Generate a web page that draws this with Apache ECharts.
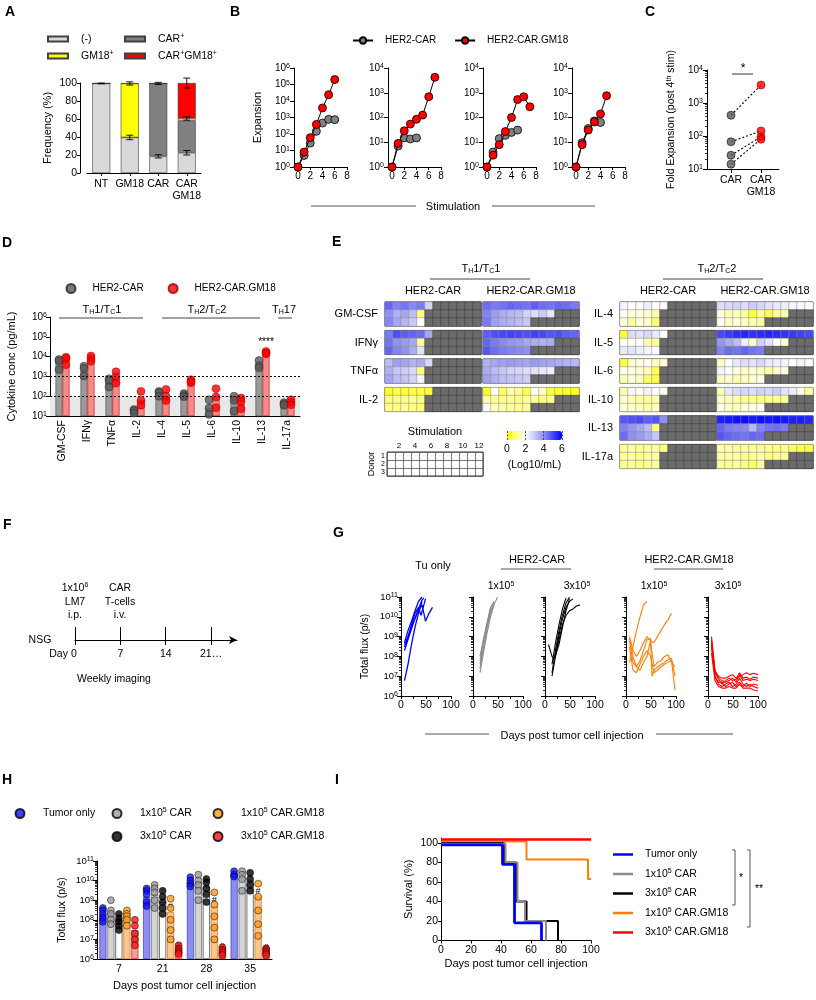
<!DOCTYPE html>
<html><head><meta charset="utf-8"><title>HER2-CAR.GM18</title>
<script src="https://cdn.jsdelivr.net/npm/echarts@6.0.0/dist/echarts.min.js"></script>
<style>html,body{margin:0;padding:0;background:#fff;}#chart{width:816px;height:1000px;}</style>
</head><body><div id="chart"></div>
<script>
// ======================= DATA =======================
// Panel A: frequency (%) of each population
const aCategories = ['NT', 'GM18', 'CAR', 'CAR\nGM18'];
const aNegative   = [99.5, 39.5, 18.5, 22.5];
const aCarPos     = [0, 0, 81, 35.5];
const aGm18Pos    = [0, 60, 0, 2.5];
const aDoublePos  = [0, 0, 0, 39.5];
const aErrors     = [[0, 99.5, 0.4], [1, 99.5, 1.8], [1, 39.5, 2.5], [2, 99.5, 1.2], [2, 18.5, 1.8], [3, 100, 5.5], [3, 60.5, 1.8], [3, 22.5, 2.5]];

// Panel B: expansion per stimulation, 4 donors
const bStim  = [0, 1, 2, 3, 4, 5, 6, 7];
const bMaxExp = [6, 4, 4, 4];
const bCar  = [[1, 5, 28, 145, 460, 770, 740], [1, 7, 15, 13.5, 15], [1, 4, 14, 19, 25, 31], [1, 9.5, 36, 73, 63]];
const bGm18 = [[1, 8, 60, 380, 3800, 24000, 200000], [1, 9, 29, 54, 85, 125, 690, 4200], [1, 3, 8, 27, 100, 530, 690, 270], [1, 8, 31, 66, 140, 760]];

// Panel C: fold expansion post 4th stim
const cGroups = ['CAR', 'CAR\nGM18'];
const cCar  = [425, 67, 26, 14];
const cGm18 = [3500, 142, 95, 80];

// Panel D: cytokine concentration (pg/mL)
const dCytokines = ['GM-CSF', 'IFNγ', 'TNFα', 'IL-2', 'IL-4', 'IL-5', 'IL-6', 'IL-10', 'IL-13', 'IL-17a'];
const dCarMean  = [5700, 2000, 630, 13, 123, 91, 26, 62, 2900, 35];
const dGm18Mean = [7800, 6900, 940, 66, 80, 430, 100, 62, 17000, 55];
const dCarDonors  = [[7200, 6000, 2200], [3300, 2500, 1050], [760, 600, 290], [21, 18, 14], [175, 150, 100], [135, 110, 95], [66, 25, 12], [100, 62, 18], [6300, 3500, 2700], [47, 40, 35]];
const dGm18Donors = [[9300, 8000, 3900], [10700, 8000, 5800], [1700, 940, 460], [175, 60, 35], [220, 100, 60], [680, 550, 480], [240, 91, 26], [80, 55, 23], [18000, 15000, 14000], [66, 50, 37]];

// Panel E: heat maps, log10 (pg/mL); rows = donors, columns = stimulations (missing = no data)
const eStims  = ['1', '2', '3', '4', '5', '6', '7', '8', '9', '10', '11', '12'];
const eDonors = ['1', '2', '3'];
const eGMCSF_car = [[4.6, 4.2, 4.4, 4.1, 4.3, 2.8], [4.0, 3.4, 3.6, 3.2, 1.0], [4.1, 3.6, 3.3, 3.0, 2.0]];
const eGMCSF_gm  = [[4.5, 4.3, 4.4, 4.6, 4.5, 4.4, 4.7, 4.5, 4.4, 4.6, 4.5, 4.3], [4.2, 3.8, 3.5, 3.3, 3.2, 2.8, 2.6, 2.9, 2.4], [4.3, 3.7, 3.5, 3.4, 3.2, 3.0]];
const eIFNg_car  = [[4.3, 4.9, 4.7, 4.6, 4.5, 3.6], [4.4, 4.0, 3.8, 3.6, 1.2], [4.6, 4.2, 4.0, 3.5, 2.5]];
const eIFNg_gm   = [[4.7, 4.9, 5.0, 5.1, 5.0, 4.9, 5.1, 5.0, 4.8, 4.9, 4.7, 4.6], [4.6, 4.3, 4.1, 3.9, 3.8, 3.6, 3.5, 3.4, 3.5], [4.8, 4.5, 4.3, 4.2, 4.1, 4.0]];
const eTNFa_car  = [[3.2, 3.7, 3.6, 3.4, 3.5, 2.7], [3.4, 3.0, 2.9, 2.7, 1.0], [3.6, 3.2, 3.1, 2.8, 2.2]];
const eTNFa_gm   = [[3.4, 3.6, 3.7, 3.8, 3.7, 3.6, 3.8, 3.7, 3.6, 3.5, 3.4, 3.3], [3.5, 3.2, 3.0, 2.8, 2.7, 2.6, 2.5, 2.4, 2.3], [3.7, 3.4, 3.2, 3.1, 3.0, 2.9]];
const eIL2_car   = [[0.3, 0.6, 0.4, 0.5, 0.5, 0.4], [1.0, 1.1, 1.0, 1.2, 1.0], [1.1, 1.0, 1.2, 1.0, 0.9]];
const eIL2_gm    = [[0.3, 2.0, 0.8, 1.4, 1.2, 0.6, 2.0, 1.5, 0.5, 0.4, 0.3, 0.2], [1.4, 1.2, 1.1, 1.2, 1.1, 1.3, 1.2, 1.0, 1.1], [2.1, 1.5, 1.3, 1.2, 1.1, 1.2]];
const eIL4_car   = [[2.2, 2.0, 2.1, 2.3, 2.0, 2.1], [1.9, 1.7, 1.8, 1.6, 1.3], [1.7, 1.2, 1.7, 1.6, 0.9]];
const eIL4_gm    = [[2.6, 2.7, 2.8, 2.6, 2.9, 2.7, 2.5, 2.4, 2.3, 2.2, 2.1, 2.0], [1.8, 1.4, 1.5, 1.3, 0.5, 1.2, 0.6, 1.2, 1.4], [1.9, 1.6, 1.7, 1.5, 1.4, 1.3]];
const eIL5_car   = [[0.4, 2.6, 2.5, 2.7, 2.4, 2.0], [2.0, 1.9, 2.0, 1.3, 1.2], [2.4, 2.5, 2.3, 2.2, 2.0]];
const eIL5_gm    = [[5.0, 5.2, 5.4, 5.5, 5.3, 5.4, 5.5, 5.4, 5.3, 5.2, 5.1, 5.0], [3.9, 3.5, 3.2, 2.3, 1.5, 2.8, 2.5, 2.0, 1.6], [4.2, 4.5, 4.4, 4.6, 4.4, 4.3]];
const eIL6_car   = [[0.5, 1.6, 1.8, 1.9, 1.5, 1.6], [1.9, 1.8, 1.6, 1.4, 0.6], [1.3, 1.7, 1.5, 0.7, 0.6]];
const eIL6_gm    = [[1.5, 2.0, 2.4, 2.6, 2.5, 2.7, 2.4, 2.3, 2.2, 2.0, 2.2, 2.1], [2.2, 2.0, 1.8, 1.6, 1.7, 1.5, 1.3, 1.6, 1.8], [1.5, 1.6, 1.4, 1.5, 1.6, 1.8]];
const eIL10_car  = [[1.4, 2.1, 1.9, 2.2, 2.0, 1.8], [1.6, 1.5, 1.3, 1.2, 1.4], [1.7, 1.6, 1.5, 1.4, 1.5]];
const eIL10_gm   = [[1.4, 2.4, 2.6, 2.7, 2.6, 2.8, 2.7, 2.9, 2.5, 2.3, 1.8, 1.2], [1.6, 1.5, 1.4, 1.1, 1.2, 1.0, 1.1, 1.2, 1.3], [1.8, 1.6, 1.5, 1.7, 1.8, 1.9]];
const eIL13_car  = [[4.8, 4.9, 5.0, 4.7, 4.8, 4.0], [4.2, 3.9, 3.6, 3.2, 1.0], [4.5, 4.0, 3.8, 3.5, 3.0]];
const eIL13_gm   = [[5.6, 5.7, 5.8, 5.8, 5.7, 5.8, 5.7, 5.8, 5.7, 5.6, 5.6, 5.5], [4.6, 4.3, 4.2, 4.1, 3.3, 4.2, 4.4, 4.5, 4.3], [4.8, 4.6, 4.5, 4.4, 4.6, 4.5]];
const eIL17a_car = [[1.2, 1.3, 1.1, 1.2, 1.3, 1.0], [1.3, 1.2, 1.1, 1.2, 1.3], [1.1, 1.2, 1.0, 1.1, 1.2]];
const eIL17a_gm  = [[1.4, 1.3, 1.2, 1.3, 1.2, 1.2, 1.1, 1.0, 1.1, 0.8, 0.6, 0.5], [1.3, 1.2, 1.3, 1.1, 1.2, 1.3, 1.0, 1.1, 1.2], [1.2, 1.1, 1.3, 1.0, 0.8, 1.2]];

// Panel F: timeline
const fTimepoints = [0, 7, 14, 21];
const fDayLabels  = ['Day 0', '7', '14', '21…'];

// Panel G: total flux (p/s) per mouse, [day, flux]
const gTuOnly = [
  [[7, 6e6], [14, 4e7], [21, 4e8], [28, 3e9], [35, 1.5e10], [42, 6e10]],
  [[7, 4e8], [14, 1e9], [21, 3e9], [28, 8e9], [35, 2.5e10], [42, 7e10], [46, 9e10]],
  [[7, 3e8], [14, 9e8], [21, 4e9], [28, 1.5e10], [35, 3e10], [40, 1.2e10], [49, 8e10]],
  [[7, 5e8], [14, 2e9], [21, 6e9], [28, 2e10], [35, 6e10], [42, 1e11]],
  [[7, 2e8], [14, 7e8], [21, 2.5e9], [28, 9e9], [35, 2e10], [42, 4e10], [49, 6e9], [56, 1.5e10], [63, 3e10]]
];
const gCar1 = [
  [[14, 1.5e7], [21, 1.5e8], [28, 1.5e9], [35, 1e10], [42, 4e10], [49, 1e11]],
  [[14, 4e7], [21, 3e8], [28, 3e9], [35, 2e10], [42, 5e10]],
  [[14, 1e8], [21, 8e8], [28, 5e9], [35, 3e10], [42, 6e10]],
  [[14, 2.5e7], [21, 3e8], [28, 2.5e9], [35, 1.5e10], [42, 4e10]],
  [[14, 6e7], [21, 6e8], [28, 4e9], [35, 2.5e10], [40, 3e10]]
];
const gCar3 = [
  [[7, 4e8], [14, 1e8], [18, 7e7], [28, 4e8], [35, 3e9], [42, 2e10], [49, 8e10]],
  [[14, 1.5e7], [21, 2e8], [28, 2e9], [35, 1.2e10], [42, 5e10], [49, 1e11]],
  [[14, 4e7], [21, 5e8], [28, 4e9], [35, 2.5e10], [42, 9e10]],
  [[14, 1e7], [21, 1e8], [28, 7e8], [35, 4e9], [42, 1.2e10], [49, 2e10], [56, 2.5e10], [63, 3.5e10], [70, 4e10]],
  [[21, 1.2e8], [28, 1.2e9], [35, 8e9], [42, 3e10], [49, 6e10], [56, 8e10]]
];
const gGm1 = [
  [[7, 5e7], [14, 3e8], [21, 2e9], [28, 1e10], [35, 4e10], [42, 6e10]],
  [[7, 1e9], [14, 2e8], [21, 1e8], [28, 2e8], [35, 5e8], [42, 1e9], [49, 6e8], [56, 5e8], [63, 1e9], [70, 2e9], [77, 4e9], [84, 7e9], [91, 1.5e10]],
  [[7, 6e8], [14, 5e7], [21, 3e7], [28, 6e7], [35, 2e8], [42, 7e8], [49, 8e8], [52, 1e7], [56, 2e7], [63, 3e7], [70, 4e7], [77, 5e7], [84, 7e7], [91, 8e7], [98, 1e7]],
  [[7, 3e8], [14, 2e7], [21, 1.5e7], [28, 4e7], [35, 1e8], [42, 2e8], [49, 1e8], [56, 1.5e7], [63, 2e7], [70, 3e7], [77, 4e7], [84, 5e7], [91, 6e7], [98, 2e6]],
  [[7, 8e8], [14, 1e8], [21, 3e7], [28, 2e7], [35, 5e7], [42, 1e8], [49, 6e8], [56, 3e7], [63, 5e7], [70, 6e7], [77, 1e8], [84, 1.2e8], [91, 5e7], [98, 3e7]]
];
const gGm3 = [
  [[7, 1e9], [14, 2e7], [21, 8e6], [28, 6e6], [35, 5e6], [42, 6e6], [49, 8e6], [56, 5e6], [63, 1.2e7], [70, 6e6], [77, 7e6], [84, 6e6], [91, 7e6], [100, 6e6]],
  [[7, 5e8], [14, 1e7], [21, 4e6], [28, 3e6], [35, 4e6], [42, 5e6], [49, 3e6], [56, 4e6], [63, 8e6], [70, 4e6], [77, 3e6], [84, 4e6], [91, 3e6], [100, 2.5e6]],
  [[7, 3e8], [14, 8e6], [21, 5e6], [28, 5e6], [35, 3e6], [42, 4e6], [49, 5e6], [56, 3e6], [63, 5e6], [70, 3e6], [77, 4.5e6], [84, 3e6], [91, 4e6], [100, 3.5e6]],
  [[7, 1.5e8], [14, 6e6], [21, 3e6], [28, 2.5e6], [35, 2.5e6], [42, 3e6], [49, 2.5e6], [56, 2.5e6], [63, 4e6], [70, 2.5e6], [77, 2.5e6], [84, 2.5e6], [91, 2e6], [100, 1.8e6]],
  [[7, 7e8], [14, 1.5e7], [21, 7e6], [28, 4e6], [35, 6e6], [42, 8e6], [49, 6e6], [56, 7e6], [63, 1.5e7], [70, 8e6], [77, 9e6], [84, 7e6], [91, 9e6], [100, 8e6]],
  [[7, 4e8], [14, 1.8e7], [21, 1e7], [28, 8e6], [35, 8e6], [42, 1e7], [49, 1.2e7], [56, 8e6], [63, 1e7], [70, 1.2e7], [77, 1.5e7], [84, 1.2e7], [91, 1.4e7], [100, 1.2e7]]
];

// Panel H: flux by day (bars = group mean, dots = mice)
const hDays = ['7', '21', '28', '35'];
const hBarTumor = [2e8, 1.5e9, 9e9, 2.2e10];
const hBarCar1  = [2.5e8, 2e9, 8e9, 1.5e10];
const hBarCar3  = [1e8, 8e8, 5e9, 1e10];
const hBarGm1   = [1.5e8, 2.5e8, 5e8, 1.5e9];
const hBarGm3   = [3e7, 2.5e6, 2.2e6, 2e6];
const hDotsTumor = [[4e8, 3e8, 2e8, 1.2e8, 8e7], [4e9, 3e9, 2e9, 8e8, 5e8], [1.5e10, 1e10, 7e9, 5e9], [3e10, 2e10, 1.6e10]];
const hDotsCar1  = [[1e9, 3e8, 2e8, 1e8, 6e7], [6e9, 4e9, 2.5e9, 1e9, 4e8], [2e10, 1e10, 6e9, 3e9, 1e9], [3e10, 2e10, 1.2e10, 3e9]];
const hDotsCar3  = [[2e8, 1.2e8, 8e7, 5e7, 3e7], [3e9, 1.5e9, 8e8, 4e8, 2e8], [1.2e10, 8e9, 4e9, 2e9, 8e8], [2.5e10, 1.2e10, 6e9, 3e9]];
const hDotsGm1   = [[3e8, 2e8, 1.5e8, 1e8, 5e7], [1.2e9, 4e8, 1e8, 3e7, 1e7], [2.5e9, 6e8, 1.5e8, 4e7, 1e7], [7e9, 1.5e9, 3e8, 6e7, 1.5e7]];
const hDotsGm3   = [[1e8, 5e7, 2e7, 1e7, 5e6], [5e6, 3.5e6, 2.8e6, 2.2e6, 1.8e6], [4e6, 3e6, 2.5e6, 2e6, 1.6e6], [3.5e6, 3e6, 2.4e6, 2e6, 1.6e6]];
const hHashGm1 = [false, true, true, true];
const hHashGm3 = [false, true, true, true];

// Panel I: survival (%) [day, percent]
const iTumor = [[0, 98], [41, 78], [49, 18], [67, 0]];
const iCar1  = [[0, 99], [43, 80], [51, 40], [56, 20], [70, 0]];
const iCar3  = [[0, 100], [42, 80], [50, 40], [57, 20], [78, 0]];
const iGm1   = [[0, 101.5], [57, 83], [98, 63], [100, 63]];
const iGm3   = [[0, 103.5], [100, 103.5]];

// ======================= BUILD =======================
const FONT = '"Liberation Sans", Arial, Helvetica, sans-serif';
const SUP = {fontSize: 7, lineHeight: 7, verticalAlign: 'top', fontFamily: FONT, color: '#000', fill: '#000'};
const SUB = {fontSize: 7, lineHeight: 7, verticalAlign: 'bottom', fontFamily: FONT, color: '#000', fill: '#000'};
function merge(a, b) {
  const o = Object.assign({}, a);
  for (const k in b) {
    const v = b[k];
    if (v && typeof v === 'object' && !Array.isArray(v) && o[k] && typeof o[k] === 'object' && !Array.isArray(o[k])) o[k] = merge(o[k], v);
    else o[k] = v;
  }
  return o;
}
const AX = {
  axisLine: {show: true, onZero: false, lineStyle: {color: '#000', width: 1}},
  axisTick: {show: true, length: 3, lineStyle: {color: '#000', width: 1}},
  axisLabel: {color: '#000', fontSize: 10, fontFamily: FONT, margin: 3, rich: {s: SUP}},
  splitLine: {show: false},
  nameMoveOverlap: false,
  nameTextStyle: {color: '#000', fontSize: 10.5, fontFamily: FONT, rich: {s: SUP}}
};
const grids = [], xAxes = [], yAxes = [], series = [], legends = [], graphics = [];
function addGrid(g) { grids.push(Object.assign({outerBoundsMode: 'none', containLabel: false}, g)); return grids.length - 1; }
function addX(a) { xAxes.push(merge(AX, a)); return xAxes.length - 1; }
function addY(a) { yAxes.push(merge(AX, a)); return yAxes.length - 1; }
function decades(lo, hi) { const r = []; for (let e = lo; e <= hi; e++) r.push(Math.pow(10, e)); return r; }
function minorsOf(lo, hi) { const r = []; for (let e = lo; e < hi; e++) for (let m = 2; m <= 9; m++) r.push(m * Math.pow(10, e)); return r; }
const logLabel = v => '10{s|' + Math.round(Math.log10(v)) + '}';
function logY(gi, lo, hi, extra) {
  return addY(merge({type: 'log', logBase: 10, gridIndex: gi, position: 'left', min: Math.pow(10, lo), max: Math.pow(10, hi), startValue: Math.pow(10, lo),
    axisLabel: {customValues: decades(lo, hi), formatter: logLabel},
    axisTick: {customValues: decades(lo, hi), length: 4}}, extra || {}));
}
function minorY(gi, lo, hi) {
  return addY({type: 'log', logBase: 10, gridIndex: gi, position: 'left', min: Math.pow(10, lo), max: Math.pow(10, hi),
    axisLine: {show: false}, axisLabel: {show: false}, axisTick: {customValues: minorsOf(lo, hi), length: 2, lineStyle: {width: 0.8}}});
}
function txt(x, y, text, o) {
  graphics.push(merge({type: 'text', x: x, y: y, silent: true, z: 100,
    style: {text: text, fontFamily: FONT, fontSize: 10.5, fill: '#000', align: 'center', verticalAlign: 'middle', rich: {s: SUP, b: SUB}}}, o || {}));
}
function ln(x1, y1, x2, y2, o) {
  graphics.push(merge({type: 'line', silent: true, z: 100, shape: {x1: x1, y1: y1, x2: x2, y2: y2}, style: {stroke: '#222', lineWidth: 1}}, o || {}));
}
const LEG = {
  '(-)': '(-)', 'CAR+': 'CAR{s|+}', 'GM18+': 'GM18{s|+}', 'CAR+GM18+': 'CAR{s|+}GM18{s|+}',
  'dG': 'HER2-CAR', 'dR': 'HER2-CAR.GM18',
  'h0': 'Tumor only', 'h1': '1x10{s|5} CAR', 'h2': '3x10{s|5} CAR', 'h3': '1x10{s|5} CAR.GM18', 'h4': '3x10{s|5} CAR.GM18',
  'i0': 'Tumor only', 'i1': '1x10{s|5} CAR', 'i2': '3x10{s|5} CAR', 'i3': '1x10{s|5} CAR.GM18', 'i4': '3x10{s|5} CAR.GM18'
};
function addLegend(o, pad) {
  legends.push(merge({show: true, selectedMode: false, padding: 0, formatter: n => (LEG[n] !== undefined ? LEG[n] : n),
    textStyle: {color: '#000', fontSize: 10.5, fontFamily: FONT, lineHeight: 13, padding: [0, 0, 0, pad || 0], rich: {s: SUP}}}, o));
}
function errorBar(params, api) {
  const x = api.value(0), y = api.value(1), e = api.value(2);
  const p1 = api.coord([x, y + e]), p2 = api.coord([x, y - e]);
  const w = 3.5, st = {stroke: '#000', lineWidth: 0.9};
  return {type: 'group', children: [
    {type: 'line', shape: {x1: p1[0], y1: p1[1], x2: p2[0], y2: p2[1]}, style: st},
    {type: 'line', shape: {x1: p1[0] - w, y1: p1[1], x2: p1[0] + w, y2: p1[1]}, style: st},
    {type: 'line', shape: {x1: p2[0] - w, y1: p2[1], x2: p2[0] + w, y2: p2[1]}, style: st}]};
}

// ---------- Panel A ----------
const gA = addGrid({left: 87, top: 83, width: 114, height: 90});
const xA = addX({type: 'category', gridIndex: gA, data: aCategories, axisTick: {alignWithLabel: true, length: 3}, axisLabel: {interval: 0, fontSize: 10.5, margin: 5, lineHeight: 12}});
const yA = addY({type: 'value', gridIndex: gA, min: 0, max: 100, interval: 20, offset: 7, axisLabel: {fontSize: 10.5}, name: 'Frequency (%)', nameLocation: 'middle', nameGap: 27, nameTextStyle: {fontSize: 11}});
[['(-)', aNegative, '#d9d9d9'], ['CAR+', aCarPos, '#808080'], ['GM18+', aGm18Pos, '#ffff00'], ['CAR+GM18+', aDoublePos, '#ff0000']].forEach(function (s) {
  series.push({type: 'bar', name: s[0], stack: 'A', xAxisIndex: xA, yAxisIndex: yA, data: s[1], barWidth: 18, itemStyle: {color: s[2], borderColor: '#404040', borderWidth: 0.6}});
});
series.push({type: 'custom', xAxisIndex: xA, yAxisIndex: yA, data: aErrors, z: 5, clip: false, renderItem: errorBar, silent: true});
addLegend({left: 47, top: 32.5, orient: 'vertical', itemGap: 4, itemWidth: 20, itemHeight: 5, icon: 'rect', data: ['(-)', 'GM18+']}, 8);
addLegend({left: 124, top: 32.5, orient: 'vertical', itemGap: 4, itemWidth: 20, itemHeight: 5, icon: 'rect', data: ['CAR+', 'CAR+GM18+']}, 8);
txt(5, 12, 'A', {style: {fontSize: 14, fontWeight: 'bold', align: 'left'}});

// ---------- Panel B ----------
const bAxisX = [294, 388, 483, 572];
bAxisX.forEach(function (lx, k) {
  const g = addGrid({left: lx, top: 68, width: 53, height: 99});
  const x = addX({type: 'value', gridIndex: g, min: -0.65, max: 8, axisLabel: {customValues: [0, 2, 4, 6, 8], fontSize: 10, margin: 4}, axisTick: {customValues: [0, 2, 4, 6, 8]}});
  const y = logY(g, 0, bMaxExp[k], {axisLabel: {margin: 4}, name: k === 0 ? 'Expansion' : '', nameLocation: 'middle', nameGap: 31, nameTextStyle: {fontSize: 11}});
  series.push({type: 'line', name: 'HER2-CAR', xAxisIndex: x, yAxisIndex: y, data: bCar[k].map((v, i) => [bStim[i], v]), symbol: 'circle', symbolSize: 8,
    lineStyle: {color: '#000', width: 1}, itemStyle: {color: '#808080', borderColor: '#000', borderWidth: 0.8}, z: 3});
  series.push({type: 'line', name: 'HER2-CAR.GM18', xAxisIndex: x, yAxisIndex: y, data: bGm18[k].map((v, i) => [bStim[i], v]), symbol: 'circle', symbolSize: 8,
    lineStyle: {color: '#000', width: 1}, itemStyle: {color: '#ff0000', borderColor: '#000', borderWidth: 0.8}, z: 4});
});
addLegend({left: 352, top: 34, itemWidth: 20, itemHeight: 8, itemGap: 18, data: ['HER2-CAR', 'HER2-CAR.GM18'], textStyle: {fontSize: 10}}, 7);
txt(230, 12, 'B', {style: {fontSize: 14, fontWeight: 'bold', align: 'left'}});
txt(453, 207, 'Stimulation', {style: {fontSize: 11}});
ln(311, 206, 416, 206, {style: {stroke: '#555'}});
ln(492, 206, 595, 206, {style: {stroke: '#555'}});

// ---------- Panel C ----------
const gC = addGrid({left: 707, top: 70, width: 72, height: 99});
const xC = addX({type: 'value', gridIndex: gC, min: 0.2, max: 2.6, axisLabel: {customValues: [1, 2], fontSize: 10.5, margin: 5, lineHeight: 12, formatter: v => cGroups[Math.round(v) - 1]}, axisTick: {customValues: [1, 2], length: 4}});
const yC = logY(gC, 1, 4, {axisLabel: {margin: 4}, name: 'Fold Expansion (post 4{s|th} stim)', nameLocation: 'middle', nameGap: 30, nameTextStyle: {fontSize: 10.5}});
minorY(gC, 1, 4);
cCar.forEach(function (v, i) {
  series.push({type: 'line', xAxisIndex: xC, yAxisIndex: yC, data: [[1, v], [2, cGm18[i]]], symbol: 'none', silent: true, lineStyle: {color: '#000', width: 1.1, type: [2, 2]}, z: 2});
});
series.push({type: 'scatter', xAxisIndex: xC, yAxisIndex: yC, data: cCar.map(v => [1, v]), symbolSize: 8, itemStyle: {color: '#595959', borderColor: '#111', borderWidth: 0.8}, z: 4});
series.push({type: 'scatter', xAxisIndex: xC, yAxisIndex: yC, data: cGm18.map(v => [2, v]), symbolSize: 8, itemStyle: {color: '#ff0000', borderColor: '#900', borderWidth: 0.8}, z: 4});
txt(645, 12, 'C', {style: {fontSize: 14, fontWeight: 'bold', align: 'left'}});
ln(732, 74, 753, 74, {style: {stroke: '#333'}});
txt(743, 69, '*', {style: {fontSize: 12}});

// ---------- Panel D ----------
const gD = addGrid({left: 50, top: 317, width: 250, height: 99});
const xD = addX({type: 'category', gridIndex: gD, data: dCytokines, axisTick: {show: false}, axisLabel: {interval: 0, rotate: 90, fontSize: 10.5, margin: 4}});
const xDv = addX({type: 'value', gridIndex: gD, min: 0, max: 10, show: false});
const yD = logY(gD, 1, 6, {axisLabel: {margin: 3}, name: 'Cytokine conc (pg/mL)', nameLocation: 'middle', nameGap: 33, nameTextStyle: {fontSize: 11}});
series.push({type: 'bar', name: 'dGb', xAxisIndex: xD, yAxisIndex: yD, data: dCarMean, barWidth: 7, barGap: '0%', clip: true,
  itemStyle: {color: '#9a9a9a', borderColor: '#444', borderWidth: 0.6},
  markArea: {silent: true, itemStyle: {color: '#e8e8e8'}, data: [[{yAxis: 10}, {yAxis: 100}]]}});
series.push({type: 'bar', name: 'dRb', xAxisIndex: xD, yAxisIndex: yD, barWidth: 7, barGap: '0%', clip: true,
  data: dGm18Mean.map((v, i) => dCytokines[i] === 'IL-13' ? {value: v, label: {show: true, formatter: '****', position: 'top', distance: 5, fontSize: 10, color: '#000', fontFamily: FONT}} : v),
  itemStyle: {color: '#f58c8c', borderColor: '#d00000', borderWidth: 0.6}});
series.push({type: 'scatter', name: 'dG', xAxisIndex: xDv, yAxisIndex: yD, symbolSize: 8, z: 4,
  data: dCarDonors.flatMap((vals, i) => vals.map(v => [i + 0.5 - 0.14, v])), itemStyle: {color: '#595959', borderColor: '#222', borderWidth: 0.6}});
series.push({type: 'scatter', name: 'dR', xAxisIndex: xDv, yAxisIndex: yD, symbolSize: 8, z: 4,
  data: dGm18Donors.flatMap((vals, i) => vals.map(v => [i + 0.5 + 0.14, v])), itemStyle: {color: '#ff0000', borderColor: '#a00000', borderWidth: 0.6},
  markLine: {silent: true, symbol: 'none', label: {show: false}, lineStyle: {color: '#000', type: [2, 2], width: 1.1}, data: [{yAxis: 1000}, {yAxis: 100}]}});
addLegend({left: 65.5, top: 282, itemWidth: 9, itemHeight: 9, itemGap: 24, data: [{name: 'dG', icon: 'circle'}, {name: 'dR', icon: 'circle'}], textStyle: {fontSize: 10}}, 12);
txt(2, 243, 'D', {style: {fontSize: 14, fontWeight: 'bold', align: 'left'}});
txt(102, 310, 'T{b|H}1/T{b|C}1', {style: {fontSize: 11}});
ln(59, 318, 143, 318, {style: {stroke: '#444'}});
txt(207, 310, 'T{b|H}2/T{b|C}2', {style: {fontSize: 11}});
ln(162, 318, 260, 318, {style: {stroke: '#444'}});
txt(284, 310, 'T{b|H}17', {style: {fontSize: 11}});
ln(278, 318, 292, 318, {style: {stroke: '#444'}});

// ---------- Panel E ----------
const eColoredIdx = [], eEmptyIdx = [];
function heatHalf(left, top, rows, label, header) {
  const g = addGrid({left: left, top: top, width: 96, height: 24, show: true, borderColor: '#222', borderWidth: 1, backgroundColor: 'transparent'});
  const x = addX({type: 'category', gridIndex: g, data: eStims, position: 'top', axisLine: {show: false}, axisTick: {show: false}, axisLabel: {show: false},
    name: header || '', nameLocation: 'middle', nameGap: 6, nameTextStyle: {fontSize: 11}});
  const y = addY({type: 'category', gridIndex: g, data: eDonors, inverse: true, axisLine: {show: false}, axisTick: {show: false}, axisLabel: {show: false},
    name: label || '', nameLocation: 'middle', nameRotate: 0, nameGap: 7, nameTextStyle: {fontSize: 11, align: 'right', verticalAlign: 'middle'}});
  const colored = [], empty = [];
  rows.forEach(function (row, r) { eStims.forEach(function (s, c) { if (c < row.length) colored.push([c, r, row[c]]); else empty.push([c, r, 1]); }); });
  eColoredIdx.push(series.length);
  series.push({type: 'heatmap', xAxisIndex: x, yAxisIndex: y, data: colored, silent: true, itemStyle: {borderColor: '#8c8c8c', borderWidth: 0.5}});
  eEmptyIdx.push(series.length);
  series.push({type: 'heatmap', xAxisIndex: x, yAxisIndex: y, data: empty, silent: true, itemStyle: {borderColor: '#3a3a3a', borderWidth: 0.5}});
}
const eLeft = [['GM-CSF', eGMCSF_car, eGMCSF_gm], ['IFNγ', eIFNg_car, eIFNg_gm], ['TNFα', eTNFa_car, eTNFa_gm], ['IL-2', eIL2_car, eIL2_gm]];
const eRight = [['IL-4', eIL4_car, eIL4_gm], ['IL-5', eIL5_car, eIL5_gm], ['IL-6', eIL6_car, eIL6_gm], ['IL-10', eIL10_car, eIL10_gm], ['IL-13', eIL13_car, eIL13_gm], ['IL-17a', eIL17a_car, eIL17a_gm]];
eLeft.forEach(function (b, i) {
  const top = 302 + i * 28.5;
  heatHalf(385, top, b[1], b[0], i === 0 ? 'HER2-CAR' : '');
  heatHalf(483, top, b[2], '', i === 0 ? 'HER2-CAR.GM18' : '');
});
eRight.forEach(function (b, i) {
  const top = 302 + i * 28.5;
  heatHalf(620, top, b[1], b[0], i === 0 ? 'HER2-CAR' : '');
  heatHalf(717, top, b[2], '', i === 0 ? 'HER2-CAR.GM18' : '');
});
// donor / stimulation key
const gKey = addGrid({left: 387, top: 452, width: 96, height: 24, show: true, borderColor: '#333', borderWidth: 1, backgroundColor: '#fff'});
addX({type: 'category', gridIndex: gKey, data: eStims, position: 'top', axisLine: {show: false}, axisTick: {show: false},
  axisLabel: {fontSize: 8, margin: 2, interval: (idx) => idx % 2 === 1}, splitLine: {show: true, interval: 0, lineStyle: {color: '#555', width: 0.8}},
  name: 'Stimulation', nameLocation: 'middle', nameGap: 15, nameTextStyle: {fontSize: 11}});
addY({type: 'category', gridIndex: gKey, data: eDonors, inverse: true, axisLine: {show: false}, axisTick: {show: false},
  axisLabel: {interval: 0, fontSize: 7, margin: 2, lineHeight: 8}, splitLine: {show: true, interval: 0, lineStyle: {color: '#555', width: 0.8}},
  name: 'Donor', nameLocation: 'middle', nameGap: 11, nameTextStyle: {fontSize: 9}});
// colour scale axis
const gBar = addGrid({left: 507, top: 431, width: 55, height: 9});
addX({type: 'value', gridIndex: gBar, min: 0, max: 6, interval: 2, z: 10, axisLine: {show: false}, axisTick: {show: false},
  axisLabel: {fontSize: 10.5, margin: 4}, splitLine: {show: true, lineStyle: {color: '#333', type: [2, 1.5], width: 0.8}},
  name: '(Log10/mL)', nameLocation: 'middle', nameGap: 20, nameTextStyle: {fontSize: 10.5}});
addY({type: 'value', gridIndex: gBar, show: false});
txt(332, 242, 'E', {style: {fontSize: 14, fontWeight: 'bold', align: 'left'}});
txt(481, 269, 'T{b|H}1/T{b|C}1', {style: {fontSize: 11}});
ln(430, 279, 530, 279, {style: {stroke: '#444'}});
txt(717, 269, 'T{b|H}2/T{b|C}2', {style: {fontSize: 11}});
ln(663, 279, 763, 279, {style: {stroke: '#444'}});

// ---------- Panel F ----------
const gF = addGrid({left: 75, top: 600, width: 162, height: 40});
addX({type: 'value', gridIndex: gF, min: 0, max: 25, position: 'bottom', axisLine: {symbol: ['none', 'arrow'], symbolSize: [6, 8]},
  axisTick: {customValues: fTimepoints, inside: true, length: 13}, axisLabel: {show: false}});
addX({type: 'value', gridIndex: gF, min: 0, max: 25, position: 'bottom', axisLine: {show: false},
  axisTick: {customValues: fTimepoints, length: 5},
  axisLabel: {customValues: fTimepoints, fontSize: 10.5, margin: 9,
    formatter: v => { const i = fTimepoints.indexOf(v); return i === 0 ? '{d|' + fDayLabels[0] + '}' : fDayLabels[i]; },
    rich: {d: {padding: [0, 24, 0, 0], fontSize: 10.5, fontFamily: FONT, color: '#000'}}}});
addY({type: 'value', gridIndex: gF, show: false, min: 0, max: 1});
txt(3, 525, 'F', {style: {fontSize: 14, fontWeight: 'bold', align: 'left'}});
txt(75, 602, '1x10{s|6}\nLM7\ni.p.', {style: {lineHeight: 13.5}});
txt(120, 602, 'CAR\nT-cells\ni.v.', {style: {lineHeight: 13.5}});
txt(40, 640, 'NSG');
txt(114, 679, 'Weekly imaging');

// ---------- Panel G ----------
const gGroups = [gTuOnly, gCar1, gCar3, gGm1, gGm3];
const gColors = ['#0000ff', '#8c8c8c', '#000000', '#ff7f00', '#ff0000'];
const gLefts = [401, 473, 545, 626, 708];
gGroups.forEach(function (mice, k) {
  const g = addGrid({left: gLefts[k], top: 597, width: 50, height: 99});
  const x = addX({type: 'value', gridIndex: g, min: 0, max: 100, interval: 25, axisLabel: {customValues: [0, 50, 100], fontSize: 10.5, margin: 4}});
  const y = logY(g, 6, 11, {axisLabel: {show: k === 0, fontSize: 9.5, margin: 3}, name: k === 0 ? 'Total flux (p/s)' : '', nameLocation: 'middle', nameGap: 30, nameTextStyle: {fontSize: 10.5}});
  minorY(g, 6, 11);
  mice.forEach(m => series.push({type: 'line', xAxisIndex: x, yAxisIndex: y, data: m, symbol: 'none', silent: true, lineStyle: {color: gColors[k], width: k === 0 ? 1.3 : 1.1}}));
});
txt(333, 533, 'G', {style: {fontSize: 14, fontWeight: 'bold', align: 'left'}});
txt(433, 566, 'Tu only', {style: {fontSize: 11}});
txt(537, 560, 'HER2-CAR', {style: {fontSize: 11}});
ln(501, 569, 571, 569, {style: {stroke: '#555', lineWidth: 1.2}});
txt(689, 560, 'HER2-CAR.GM18', {style: {fontSize: 11}});
ln(654, 569, 723, 569, {style: {stroke: '#555', lineWidth: 1.2}});
txt(501, 586, '1x10{s|5}');
txt(577, 586, '3x10{s|5}');
txt(654, 586, '1x10{s|5}');
txt(728, 586, '3x10{s|5}');
txt(572, 736, 'Days post tumor cell injection', {style: {fontSize: 11}});
ln(425, 734, 489, 734, {style: {stroke: '#555'}});
ln(656, 734, 733, 734, {style: {stroke: '#555'}});

// ---------- Panel H ----------
const gH = addGrid({left: 97, top: 861, width: 175, height: 98});
const xH = addX({type: 'category', gridIndex: gH, data: hDays, axisTick: {show: false}, axisLabel: {interval: 0, fontSize: 10.5, margin: 5},
  name: 'Days post tumor cell injection', nameLocation: 'middle', nameGap: 21, nameTextStyle: {fontSize: 11}});
const xHv = addX({type: 'value', gridIndex: gH, min: 0, max: 4, show: false});
const yH = logY(gH, 6, 11, {axisLabel: {fontSize: 9.5, margin: 3}, name: 'Total flux (p/s)', nameLocation: 'middle', nameGap: 29, nameTextStyle: {fontSize: 10.5}});
minorY(gH, 6, 11);
const hBars = [hBarTumor, hBarCar1, hBarCar3, hBarGm1, hBarGm3];
const hDots = [hDotsTumor, hDotsCar1, hDotsCar3, hDotsGm1, hDotsGm3];
const hHash = [null, null, null, hHashGm1, hHashGm3];
const hBarFill = ['#8c8cf2', '#d4d4d4', '#ffffff', '#fbc58e', '#f79c9c'];
const hBarLine = ['#2a2aa0', '#555555', '#111111', '#c86400', '#c00000'];
const hDotFill = ['#1010ff', '#9a9a9a', '#000000', '#ff9a1a', '#ff1010'];
hBars.forEach(function (d, k) {
  series.push({type: 'bar', name: 'hb' + k, xAxisIndex: xH, yAxisIndex: yH, barWidth: 7, barGap: '14%', clip: true,
    data: d.map((v, i) => (hHash[k] && hHash[k][i]) ? {value: v, label: {show: true}} : v),
    label: {show: false, position: 'top', distance: 1, formatter: '#', fontSize: 9, color: '#000', fontFamily: FONT},
    itemStyle: {color: hBarFill[k], borderColor: hBarLine[k], borderWidth: 0.6}});
});
hDots.forEach(function (days, k) {
  series.push({type: 'scatter', name: 'h' + k, xAxisIndex: xHv, yAxisIndex: yH, symbolSize: 7, z: 5,
    data: days.flatMap((vals, i) => vals.map(v => [i + 0.5 + (k - 2) * 0.183, v])),
    itemStyle: {color: hDotFill[k], borderColor: '#000', borderWidth: 0.6}});
});
addLegend({left: 14.5, top: 807, itemWidth: 9, itemHeight: 9, data: [{name: 'h0', icon: 'circle'}]}, 13.5);
addLegend({left: 111.5, top: 807, orient: 'vertical', itemGap: 10, itemWidth: 9, itemHeight: 9, data: [{name: 'h1', icon: 'circle'}, {name: 'h2', icon: 'circle'}]}, 13.5);
addLegend({left: 212.5, top: 807, orient: 'vertical', itemGap: 10, itemWidth: 9, itemHeight: 9, data: [{name: 'h3', icon: 'circle'}, {name: 'h4', icon: 'circle'}]}, 13.5);
txt(2, 780, 'H', {style: {fontSize: 14, fontWeight: 'bold', align: 'left'}});

// ---------- Panel I ----------
const gI = addGrid({left: 441, top: 838, width: 150, height: 102.5});
const xI = addX({type: 'value', gridIndex: gI, min: 0, max: 100, interval: 20, axisLabel: {fontSize: 10.5, margin: 4},
  name: 'Days post tumor cell injection', nameLocation: 'middle', nameGap: 18, nameTextStyle: {fontSize: 11}});
const yI = addY({type: 'value', gridIndex: gI, min: 0, max: 105, axisLabel: {customValues: [0, 20, 40, 60, 80, 100], fontSize: 10.5, margin: 3},
  axisTick: {customValues: [0, 20, 40, 60, 80, 100]}, name: 'Survival (%)', nameLocation: 'middle', nameGap: 27, nameTextStyle: {fontSize: 11}});
const iCurves = [['i3', iGm1, '#ff7f00', 2], ['i4', iGm3, '#ff0000', 2.5], ['i2', iCar3, '#000000', 2], ['i1', iCar1, '#8c8c8c', 2], ['i0', iTumor, '#0000ff', 2.8]];
iCurves.forEach(function (c) {
  series.push({type: 'line', name: c[0], xAxisIndex: xI, yAxisIndex: yI, data: c[1], step: 'end', symbol: 'none', silent: true,
    lineStyle: {color: c[2], width: c[3]}, itemStyle: {color: c[2]}});
});
addLegend({left: 613, top: 848, orient: 'vertical', itemGap: 6.5, itemWidth: 20, itemHeight: 2.5, icon: 'rect', data: ['i0', 'i1', 'i2', 'i3', 'i4']}, 7);
txt(335, 780, 'I', {style: {fontSize: 14, fontWeight: 'bold', align: 'left'}});
graphics.push({type: 'polyline', silent: true, z: 100, shape: {points: [[732, 850], [735, 850], [735, 905], [732, 905]]}, style: {stroke: '#555', fill: 'none', lineWidth: 1}});
graphics.push({type: 'polyline', silent: true, z: 100, shape: {points: [[747, 850], [750, 850], [750, 927], [747, 927]]}, style: {stroke: '#555', fill: 'none', lineWidth: 1}});
txt(739, 878, '*', {style: {align: 'left'}});
txt(755, 889, '**', {style: {align: 'left'}});

// ---------- visual maps ----------
const visualMaps = [
  {type: 'continuous', min: 0, max: 6, seriesIndex: eColoredIdx, orient: 'horizontal', left: 507, top: 431, itemWidth: 9, itemHeight: 55,
    padding: 0, calculable: false, show: true, text: null, inRange: {color: ['#ffff00', '#ffffff', '#9090f0', '#0000ff']}, textStyle: {color: '#000'}},
  {type: 'continuous', min: 0, max: 1, seriesIndex: eEmptyIdx, show: false, inRange: {color: ['#6b6b6b', '#6b6b6b']}}
];

const chart = echarts.init(document.getElementById('chart'), null, {renderer: 'canvas', width: 816, height: 1000});
chart.setOption({
  animation: false, backgroundColor: '#ffffff', textStyle: {fontFamily: FONT},
  grid: grids, xAxis: xAxes, yAxis: yAxes, series: series, legend: legends, visualMap: visualMaps, graphic: graphics
});
</script></body></html>
